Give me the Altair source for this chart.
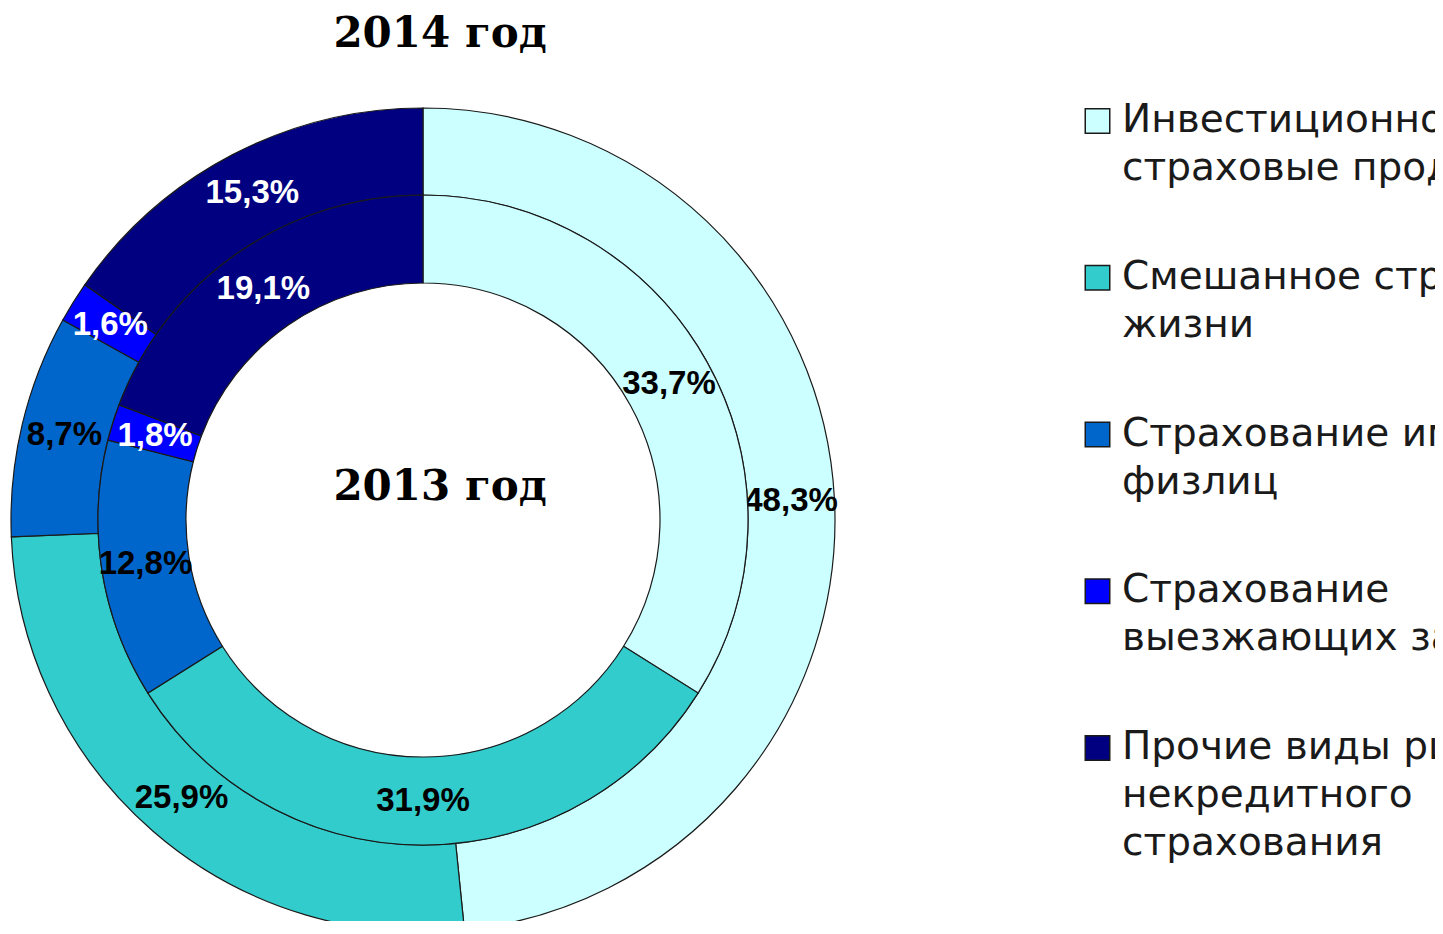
import altair as alt
import pandas as pd

# ---- data ----
categories = [
    "Инвестиционно-страховые продукты",
    "Смешанное страхование жизни",
    "Страхование имущества физлиц",
    "Страхование выезжающих за рубеж",
    "Прочие виды рискового некредитного страхования",
]
legend_labels = [
    "Инвестиционно-\nстраховые продукты",
    "Смешанное страхование\nжизни",
    "Страхование имущества\nфизлиц",
    "Страхование\nвыезжающих за рубеж",
    "Прочие виды рискового\nнекредитного\nстрахования",
]
values_2014 = [48.3, 25.9, 8.7, 1.6, 15.3]
values_2013 = [33.7, 31.9, 12.8, 1.8, 19.1]
colors = ["#CCFFFF", "#33CCCC", "#0066CC", "#0000FF", "#000080"]
label_colors = ["#000000", "#000000", "#000000", "#FFFFFF", "#FFFFFF"]
titles = ["2014 год", "2013 год"]

# ---- layout constants ----
CX, CY = 415, 512
R_OUT, R_MID, R_IN = 412, 325, 237


def ring_df(values):
    return pd.DataFrame({
        "cat": categories,
        "order": list(range(len(categories))),
        "value": values,
        "label": [f"{v:.1f}%".replace(".", ",") for v in values],
        "tcolor": label_colors,
    })


color_scale = alt.Scale(domain=categories, range=colors)


def ring(values, r_outer, r_inner):
    base = alt.Chart(ring_df(values)).encode(
        theta=alt.Theta("value:Q", stack=True),
        order=alt.Order("order:Q", sort="ascending"),
        x=alt.value(CX),
        y=alt.value(CY),
    )
    arcs = base.mark_arc(
        radius=r_outer, radius2=r_inner, stroke="#1a1a1a", strokeWidth=1.2
    ).encode(color=alt.Color("cat:N", scale=color_scale, legend=None))
    labels = base.mark_text(
        radius=(r_outer + r_inner) / 2,
        font="Liberation Sans",
        fontSize=33,
        fontWeight="bold",
        align="center",
        baseline="middle",
    ).encode(text="label:N", color=alt.Color("tcolor:N", scale=None))
    return alt.layer(arcs, labels)


ring14 = ring(values_2014, R_OUT, R_MID)
ring13 = ring(values_2013, R_MID, R_IN)

title_df = pd.DataFrame({"t": titles, "py": [39, 492]})
title_layer = alt.Chart(title_df).mark_text(
    font="DejaVu Serif", fontSize=42, fontWeight="bold",
    align="center", baseline="alphabetic", color="#000000",
).encode(
    text="t:N",
    x=alt.value(432),
    y=alt.Y("py:Q", scale=None),
)

leg_df = pd.DataFrame({
    "cat": categories,
    "idx": list(range(len(categories))),
    "lab": legend_labels,
})
leg_y = alt.Y("idx:O", scale=alt.Scale(type="point", range=[93, 720], padding=0), axis=None)
leg_squares = alt.Chart(leg_df).mark_square(
    size=600, filled=True, stroke="#1a1a1a", strokeWidth=1.5, opacity=1, yOffset=20
).encode(
    x=alt.value(1089.5),
    y=leg_y,
    color=alt.Color("cat:N", scale=color_scale, legend=None),
)
leg_text = alt.Chart(leg_df).mark_text(
    font="DejaVu Sans", fontSize=39, lineHeight=48, lineBreak="\n",
    align="left", baseline="top", color="#1a1a1a",
).encode(
    x=alt.value(1114),
    y=leg_y,
    text="lab:N",
)

chart = alt.layer(
    ring14, ring13, title_layer, leg_squares, leg_text
).resolve_scale(theta="independent").properties(
    width=1427, height=913,
    autosize=alt.AutoSizeParams(type="none"),
    padding=0,
    background="white",
).configure_view(strokeWidth=0)

chart.save("out.html", embed_options={"renderer": "svg", "actions": False})
